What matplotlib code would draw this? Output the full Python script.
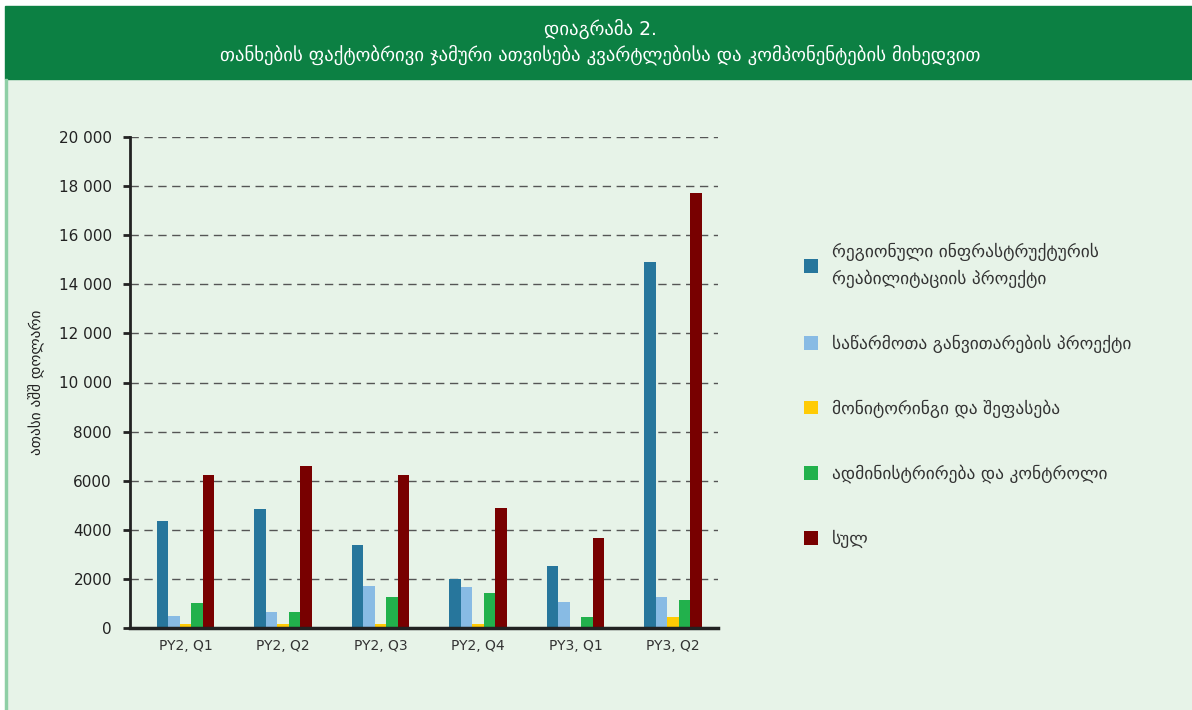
import matplotlib
matplotlib.use('Agg')
import matplotlib.pyplot as plt
from matplotlib.patches import Rectangle, Patch
from matplotlib.ticker import FuncFormatter
import numpy as np

quarters = ['PY2, Q1', 'PY2, Q2', 'PY2, Q3', 'PY2, Q4', 'PY3, Q1', 'PY3, Q2']
regional_infra = [4350, 4850, 3400, 2000, 2530, 14900]
enterprise_dev = [500, 650, 1700, 1680, 1040, 1280]
monitoring = [170, 170, 170, 170, 0, 450]
administration = [1000, 650, 1280, 1440, 450, 1150]
total = [6220, 6580, 6220, 4890, 3670, 17700]

series_labels = [
    'რეგიონული ინფრასტრუქტურის\nრეაბილიტაციის პროექტი',
    'საწარმოთა განვითარების პროექტი',
    'მონიტორინგი და შეფასება',
    'ადმინისტრირება და კონტროლი',
    'სულ',
]
colors = ['#27769c', '#88bbe4', '#ffcb05', '#22b14c', '#780000']

# no installed font has Mtavruli capitals, so the same letters in Mkhedruli
title_line1 = 'დიაგრამა 2.'
title_line2 = 'თანხების ფაქტობრივი ჯამური ათვისება კვარტლებისა და კომპონენტების მიხედვით'
y_title = 'ათასი აშშ დოლარი'

plt.rcParams['font.family'] = ['DejaVu Sans']

W, H = 1192, 710
fig = plt.figure(figsize=(W / 100, H / 100), dpi=100)
fig.patch.set_facecolor('white')

# background panels (pixel coords -> figure fraction)
def frac(x0, y0, x1, y1):
    return (x0 / W, 1 - y1 / H, (x1 - x0) / W, (y1 - y0) / H)

x, y, w, h = frac(5, 79, 1192, 710)
fig.patches.append(Rectangle((x, y), w, h, transform=fig.transFigure, color='#e7f3e8', zorder=-3))
x, y, w, h = frac(5, 6, 1192, 79)
fig.patches.append(Rectangle((x, y), w, h, transform=fig.transFigure, color='#0c8043', zorder=-3))
x, y, w, h = frac(5, 79, 7, 710)
fig.patches.append(Rectangle((x, y), w, h, transform=fig.transFigure, color='#8fcfa6', zorder=-2))

fig.text(600 / W, 1 - 29 / H, title_line1, color='white', fontsize=13.5, ha='center', va='center')
fig.text(600 / W, 1 - 55 / H, title_line2, color='white', fontsize=13.5, ha='center', va='center')

ax = fig.add_axes(frac(130, 137, 718, 628))
ax.set_facecolor('none')
ax.set_zorder(2)

xs = np.arange(len(quarters))
bw = 0.118
data = [regional_infra, enterprise_dev, monitoring, administration, total]
for i, (vals, c) in enumerate(zip(data, colors)):
    ax.bar(xs + (i - 2) * bw, vals, width=bw, color=c, zorder=3)

ax.set_xlim(-0.57, 5.46)
ax.set_ylim(0, 20000)
ax.set_yticks(np.arange(0, 20001, 2000))
ax.yaxis.set_major_formatter(FuncFormatter(
    lambda v, p: f'{int(v):,}'.replace(',', ' ') if v >= 10000 else f'{int(v)}'))
ax.set_xticks(xs)
ax.set_xticklabels(quarters)
ax.tick_params(axis='x', length=0, labelsize=10, colors='#333333', pad=8)
ax.tick_params(axis='y', length=5, width=2, labelsize=11, colors='#222222', pad=8)
ax.grid(axis='y', linestyle=(0, (6, 4)), color='#555555', linewidth=1, zorder=1)
for s in ['top', 'right']:
    ax.spines[s].set_visible(False)
ax.spines['left'].set_linewidth(2)
ax.spines['left'].set_color('#222222')
ax.spines['bottom'].set_linewidth(2.5)
ax.spines['bottom'].set_color('#222222')
ax.spines['bottom'].set_zorder(4)
ax.set_ylabel(y_title, fontsize=11, color='#222222', labelpad=10)

handles = [Patch(facecolor=c, edgecolor='none') for c in colors]
leg = fig.legend(handles, series_labels, loc='upper left',
                 bbox_to_anchor=(788 / W, 1 - 227 / H), frameon=False,
                 fontsize=12.5, handlelength=0.85, handleheight=0.85,
                 handletextpad=0.8, labelspacing=2.68, labelcolor='#333333')
for t in leg.get_texts():
    t.set_linespacing(1.6)

fig.savefig('out.png', dpi=100)
